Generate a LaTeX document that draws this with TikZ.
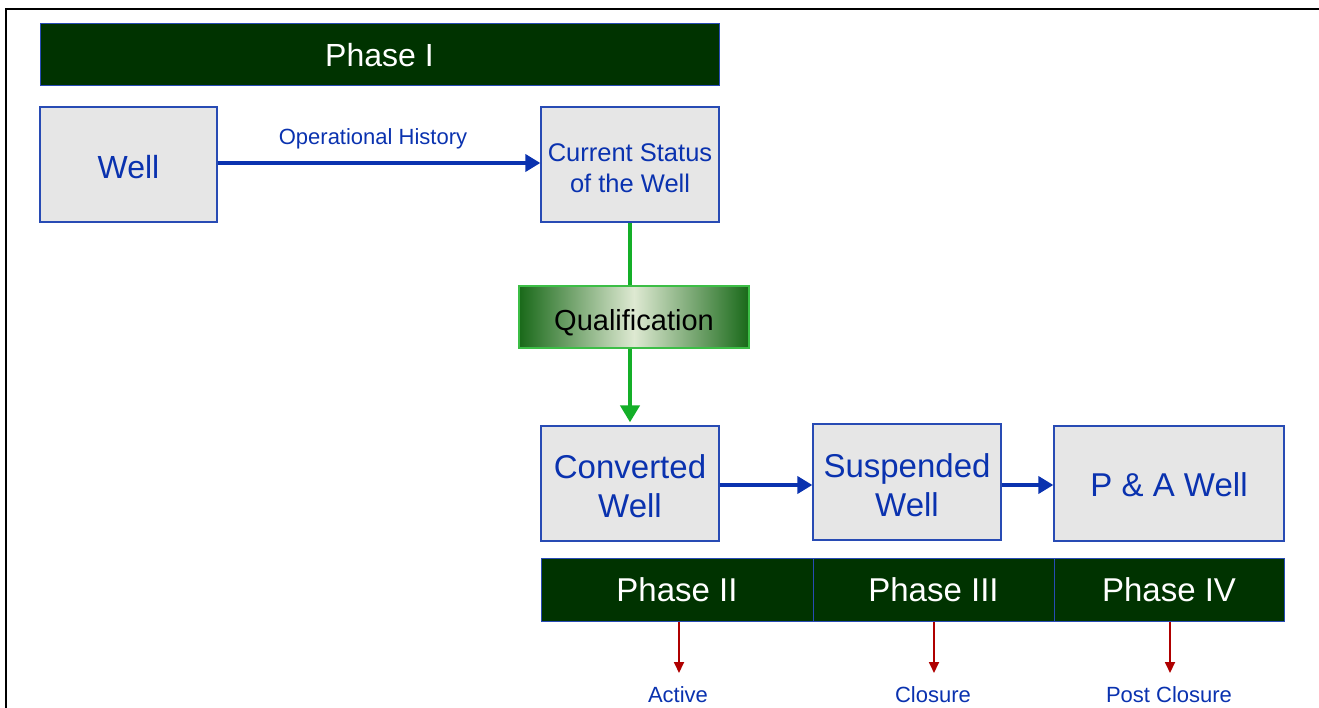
\documentclass[tikz,border=0pt]{standalone}
\usepackage{fontspec}
\setmainfont{Liberation Sans}
\usetikzlibrary{arrows.meta,shadings}
\definecolor{txtblue}{RGB}{10,50,175}
\definecolor{bordblue}{RGB}{40,75,180}
\definecolor{boxgray}{RGB}{230,230,230}
\definecolor{phgreen}{RGB}{0,51,0}
\definecolor{arrgreen}{RGB}{20,175,40}
\definecolor{qdark}{RGB}{25,105,25}
\definecolor{qlight}{RGB}{222,233,210}
\definecolor{qborder}{RGB}{60,190,70}
\definecolor{arrred}{RGB}{175,0,0}
\newcommand{\fs}[2]{\fontsize{#1}{#2}\selectfont}
\tikzset{
  wellbox/.style={draw=bordblue, line width=1.3pt, fill=boxgray, inner sep=0pt},
  boxtext/.style={text=txtblue, align=center, inner sep=0pt},
  phasebar/.style={draw=bordblue, line width=1pt, fill=phgreen, inner sep=0pt, text=white, font=\fs{33}{38}},
  bluearrow/.style={draw=txtblue, line width=4.5pt, -{Triangle[length=15pt,width=17pt]}},
  greenline/.style={draw=arrgreen, line width=4.5pt},
  greenarrow/.style={draw=arrgreen, line width=4.5pt, -{Triangle[length=17pt,width=19pt]}},
  redarrow/.style={draw=arrred, line width=1.8pt, -{Triangle[length=11pt,width=10pt]}},
  smalllabel/.style={text=txtblue, inner sep=0pt, font=\fs{22}{24}},
}
\begin{document}
\begin{tikzpicture}[x=1pt,y=-1pt]
\useasboundingbox (0,0) rectangle (1319,708);
% frame
\draw[line width=2pt, black] (5.5,708) -- (5.5,9.5) -- (1319,9.5);

\node[phasebar, minimum width=679pt, minimum height=62pt, font=\fs{32}{38}] (ph1) at (379.5,55) {Phase I};

\node[wellbox, minimum width=177pt, minimum height=115pt,
  label={[boxtext, font=\fs{32}{38}, yshift=-3pt]center:Well}] (well) at (128.5,164.5) {};
\node[wellbox, minimum width=178pt, minimum height=115pt,
  label={[boxtext, font=\fs{25.5}{31}, yshift=-3.5pt]center:{Current Status\\of the Well}}] (cur) at (630,164.5) {};

\draw[bluearrow] (well.east |- 0,163) -- (cur.west |- 0,163);
\node[smalllabel] (oph) at (373,139) {Operational History};

\node[draw=qborder, line width=1.3pt, inner sep=0pt, minimum width=230pt, minimum height=62pt,
      left color=qdark, right color=qdark, middle color=qlight,
      label={[inner sep=0pt, font=\fs{29}{32}, yshift=-5.5pt]center:Qualification}] (qual) at (634,317) {};

\node[wellbox, minimum width=178pt, minimum height=115pt,
  label={[boxtext, font=\fs{33}{39}, yshift=-2.5pt]center:{Converted\\Well}}] (conv) at (630,483.5) {};
\node[wellbox, minimum width=188pt, minimum height=116pt,
  label={[boxtext, font=\fs{33}{39}, yshift=-3.5pt]center:{Suspended\\Well}}] (susp) at (907,482) {};
\node[wellbox, minimum width=230pt, minimum height=115pt,
  label={[boxtext, font=\fs{33}{38}, yshift=-1pt]center:{P \& A Well}}] (pa) at (1169,483.5) {};

\draw[greenline] (cur.south) -- (cur.south |- qual.north);
\draw[greenarrow, shorten >=3pt] (qual.south -| conv.north) -- (conv.north);

\draw[bluearrow] (conv.east |- 0,485) -- (susp.west |- 0,485);
\draw[bluearrow] (susp.east |- 0,485) -- (pa.west |- 0,485);

\node[phasebar, minimum width=272pt, minimum height=63pt] (p2) at (677,589.5) {Phase II};
\node[phasebar, minimum width=241pt, minimum height=63pt] (p3) at (933.5,589.5) {Phase III};
\node[phasebar, minimum width=230pt, minimum height=63pt] (p4) at (1169,589.5) {Phase IV};

\coordinate (e2) at (679,673);
\coordinate (e3) at (934,673);
\coordinate (e4) at (1170,673);
\draw[redarrow] (p2.south -| e2) -- (e2);
\draw[redarrow] (p3.south -| e3) -- (e3);
\draw[redarrow] (p4.south -| e4) -- (e4);

\node[smalllabel] (act) at (678,695) {Active};
\node[smalllabel] (clo) at (933,695) {Closure};
\node[smalllabel] (pcl) at (1169,695) {Post Closure};
\end{tikzpicture}
\end{document}
